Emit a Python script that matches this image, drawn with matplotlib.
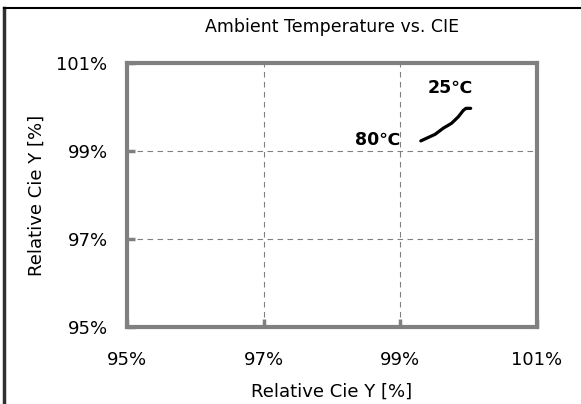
import numpy as np
import matplotlib.pyplot as plt
from matplotlib.lines import Line2D

# data (relative CIE values, %)
cie_x = [99.30, 99.51, 99.63, 99.75, 99.85, 99.92, 99.96, 100.03]
cie_y = [99.23, 99.38, 99.52, 99.63, 99.78, 99.92, 99.97, 99.97]
ticks = [95, 97, 99, 101]
tick_labels = ["95%", "97%", "99%", "101%"]

gray = "#808080"

fig = plt.figure(figsize=(5.81, 4.04), dpi=100)
ax = fig.add_axes([0.2186, 0.1906, 0.7056, 0.6534])

ax.plot(cie_x, cie_y, color="black", lw=2.3, solid_capstyle="round")

ax.set_xlim(95, 101)
ax.set_ylim(95, 101)
ax.set_xticks(ticks)
ax.set_yticks(ticks)
ax.set_xticklabels(tick_labels, fontsize=13)
ax.set_yticklabels(tick_labels, fontsize=13)
ax.tick_params(direction="in", length=6, width=2.5, color=gray)
ax.tick_params(axis="x", pad=17)
ax.tick_params(axis="y", pad=14)

ax.grid(True, ls=(0, (5, 4)), color=gray, lw=0.8)
for s in ax.spines.values():
    s.set_color(gray)
    s.set_linewidth(3)

ax.set_title("Ambient Temperature vs. CIE", fontsize=12.5, pad=22)
ax.set_xlabel("Relative Cie Y [%]", fontsize=13, labelpad=10)
ax.set_ylabel("Relative Cie Y [%]", fontsize=13, labelpad=8)

ax.text(99.73, 100.43, "25℃", fontsize=12.5, fontweight="bold", ha="center", va="center")
ax.text(99.0, 99.25, "80℃", fontsize=12.5, fontweight="bold", ha="right", va="center")

# outer frame
fig.add_artist(Line2D([4/581, 4/581], [0, 1 - 8/404], color="#303030", lw=2.5, transform=fig.transFigure))
fig.add_artist(Line2D([4/581, 1], [1 - 8/404, 1 - 8/404], color="black", lw=1.5, transform=fig.transFigure))

fig.savefig("out.png", dpi=100)
